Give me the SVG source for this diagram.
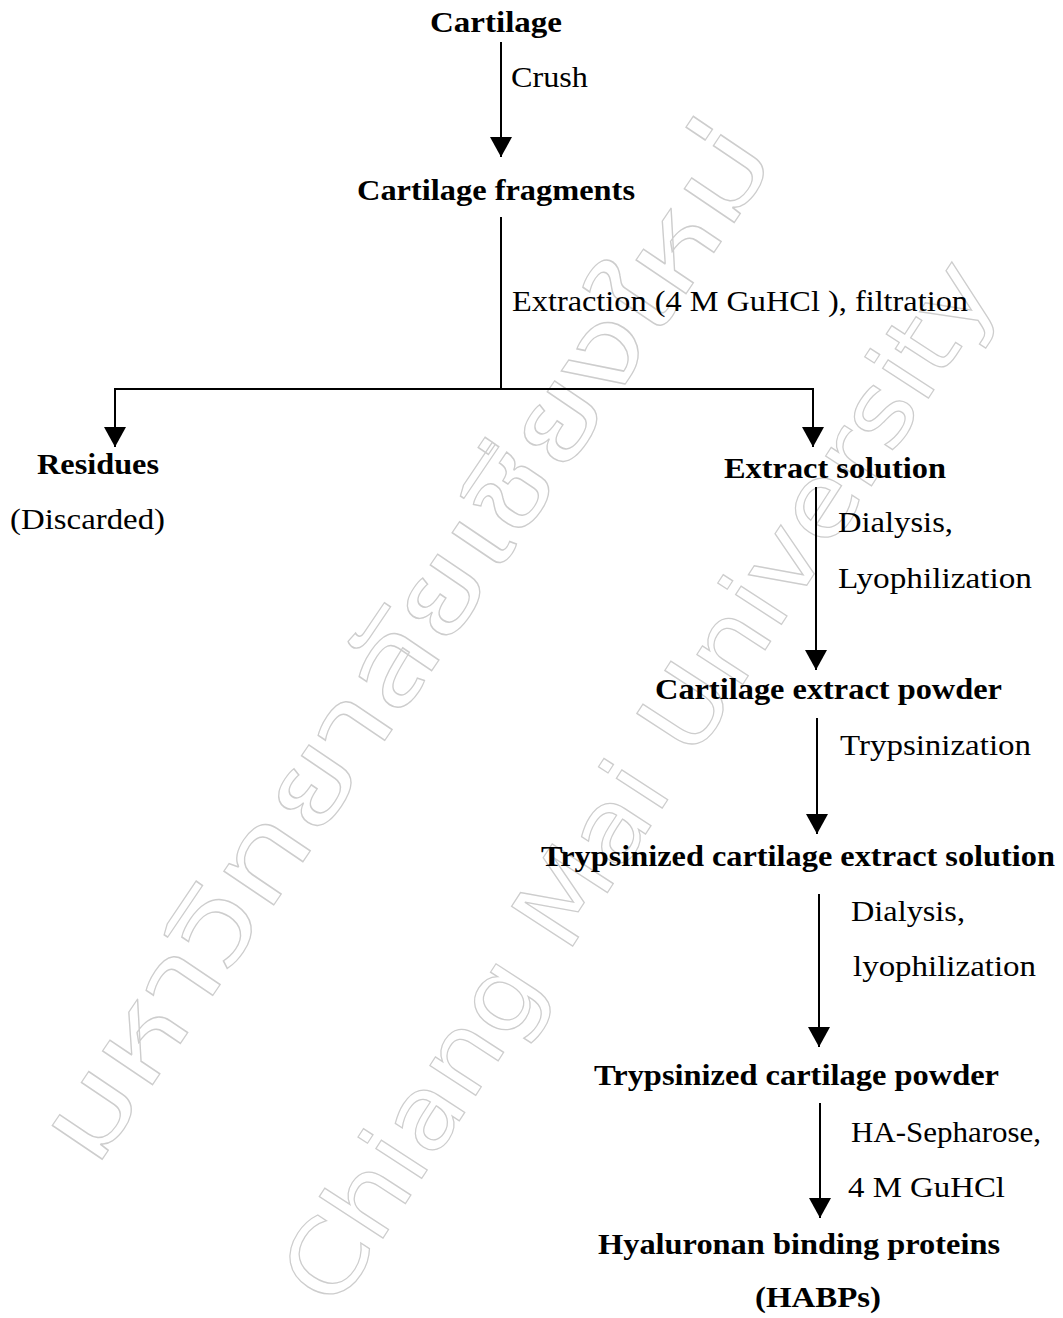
<svg xmlns="http://www.w3.org/2000/svg" width="1063" height="1318" viewBox="0 0 1063 1318">
<defs>
<style>
.node{font-family:"Liberation Serif","Times New Roman",serif;font-weight:bold;font-size:29px;fill:#000}
.lbl{font-family:"Liberation Serif","Times New Roman",serif;font-size:30px;fill:#000}
.ln{stroke:#000;stroke-width:2;fill:none}
.arr{stroke:#000;stroke-width:2;fill:none;marker-end:url(#ah)}
.wm{fill:none;stroke:#cdcdcd;stroke-width:1.2}
</style>
<marker id="ah" markerUnits="userSpaceOnUse" markerWidth="22" markerHeight="22" viewBox="0 0 20 22" refX="20" refY="11" orient="auto">
<path d="M0,0 L20,11 L0,22 Z" fill="#000"/>
</marker>
</defs>
<rect width="1063" height="1318" fill="#fff"/>
<g id="watermark">
<text class="wm" font-family="Noto Sans Thai,Noto Sans,DejaVu Sans,sans-serif" font-size="110" transform="translate(95,1170) rotate(-56)" textLength="1220" lengthAdjust="spacingAndGlyphs">มหาวิทยาลัยเชียงใหม่</text>
<text class="wm" font-family="DejaVu Sans,sans-serif" font-size="100" transform="translate(335,1312) rotate(-57)" textLength="1220" lengthAdjust="spacingAndGlyphs">Chiang Mai University</text>
</g>
<g id="connectors">
<line class="arr" x1="501" y1="42" x2="501" y2="157"/>
<polyline class="ln" points="501,217 501,389"/>
<polyline class="ln" points="114,389 813,389"/>
<line class="arr" x1="115" y1="388" x2="115" y2="447"/>
<line class="arr" x1="813" y1="388" x2="813" y2="447"/>
<line class="arr" x1="816" y1="487" x2="816" y2="670"/>
<line class="arr" x1="817" y1="718" x2="817" y2="834"/>
<line class="arr" x1="819" y1="894" x2="819" y2="1047"/>
<line class="arr" x1="820" y1="1103" x2="820" y2="1218"/>
</g>
<g id="labels">
<text class="lbl" x="511" y="87" textLength="77" lengthAdjust="spacingAndGlyphs">Crush</text>
<text class="lbl" x="512" y="311" textLength="456" lengthAdjust="spacingAndGlyphs">Extraction (4 M GuHCl ), filtration</text>
<text class="lbl" x="838" y="532" textLength="115" lengthAdjust="spacingAndGlyphs">Dialysis,</text>
<text class="lbl" x="838" y="588" textLength="194" lengthAdjust="spacingAndGlyphs">Lyophilization</text>
<text class="lbl" x="840" y="755" textLength="191" lengthAdjust="spacingAndGlyphs">Trypsinization</text>
<text class="lbl" x="851" y="921" textLength="114" lengthAdjust="spacingAndGlyphs">Dialysis,</text>
<text class="lbl" x="853" y="976" textLength="183" lengthAdjust="spacingAndGlyphs">lyophilization</text>
<text class="lbl" x="851" y="1142" textLength="190" lengthAdjust="spacingAndGlyphs">HA-Sepharose,</text>
<text class="lbl" x="848" y="1197" textLength="157" lengthAdjust="spacingAndGlyphs">4 M GuHCl</text>
</g>
<g id="n-cartilage"><text class="node" x="430" y="32" textLength="132" lengthAdjust="spacingAndGlyphs">Cartilage</text></g>
<g id="n-fragments"><text class="node" x="357" y="200" textLength="278" lengthAdjust="spacingAndGlyphs">Cartilage fragments</text></g>
<g id="n-residues">
<text class="node" x="37" y="474" textLength="122" lengthAdjust="spacingAndGlyphs">Residues</text>
<text class="lbl" x="10" y="529" textLength="155" lengthAdjust="spacingAndGlyphs">(Discarded)</text>
</g>
<g id="n-extract"><text class="node" x="724" y="478" textLength="222" lengthAdjust="spacingAndGlyphs">Extract solution</text></g>
<g id="n-powder"><text class="node" x="655" y="699" textLength="347" lengthAdjust="spacingAndGlyphs">Cartilage extract powder</text></g>
<g id="n-trypsol"><text class="node" x="541" y="866" textLength="514" lengthAdjust="spacingAndGlyphs">Trypsinized cartilage extract solution</text></g>
<g id="n-tryppow"><text class="node" x="594" y="1085" textLength="405" lengthAdjust="spacingAndGlyphs">Trypsinized cartilage powder</text></g>
<g id="n-habp">
<text class="node" x="598" y="1254" textLength="402" lengthAdjust="spacingAndGlyphs">Hyaluronan binding proteins</text>
<text class="node" x="755" y="1307" textLength="126" lengthAdjust="spacingAndGlyphs">(HABPs)</text>
</g>
</svg>
